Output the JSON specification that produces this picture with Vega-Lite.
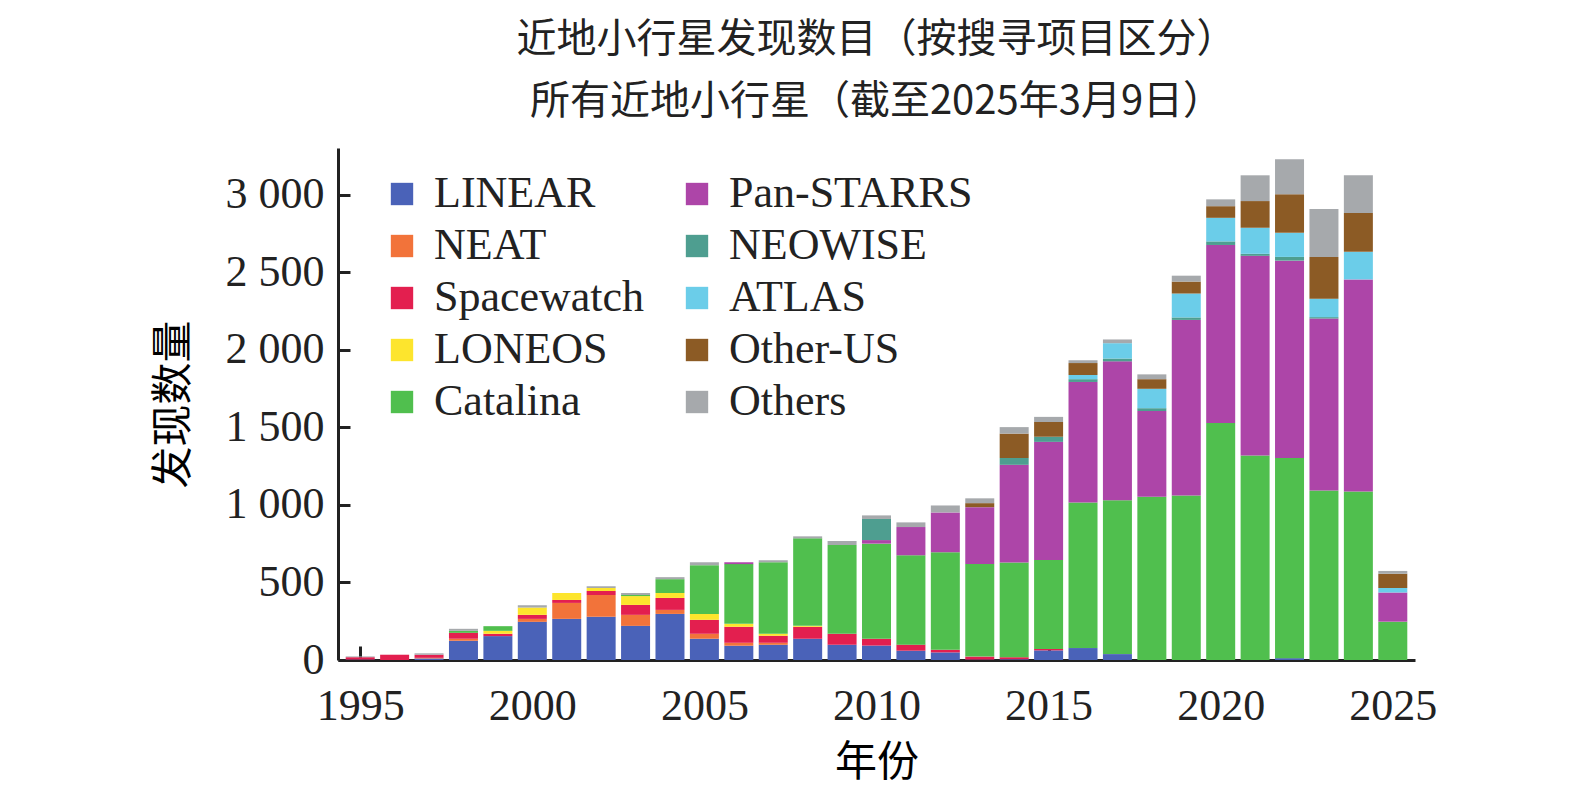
{
"$schema":"https://vega.github.io/schema/vega-lite/v6.json",
"width":1077,"height":512,
"autosize":{"type":"none"},
"padding":{"left":338,"top":148,"right":160,"bottom":148},
"background":"white",
"config":{"view":{"stroke":null},"font":"Liberation Serif"},
"title":{"text":["近地小行星发现数目（按搜寻项目区分）","所有近地小行星（截至2025年3月9日）"],"font":"Noto Sans CJK SC","fontSize":40,"fontWeight":"normal","lineHeight":62,"offset":26,"color":"#222"},
"data":{"values":[
{"y":1995,"s":"LINEAR","v":3},{"y":1995,"s":"Spacewatch","v":15},{"y":1995,"s":"Others","v":5},
{"y":1996,"s":"Spacewatch","v":34},
{"y":1997,"s":"LINEAR","v":10},{"y":1997,"s":"NEAT","v":4},{"y":1997,"s":"Spacewatch","v":20},{"y":1997,"s":"Others","v":9},
{"y":1998,"s":"LINEAR","v":124},{"y":1998,"s":"NEAT","v":13},{"y":1998,"s":"Spacewatch","v":38},{"y":1998,"s":"Catalina","v":13},{"y":1998,"s":"Others","v":13},
{"y":1999,"s":"LINEAR","v":154},{"y":1999,"s":"Spacewatch","v":15},{"y":1999,"s":"LONEOS","v":19},{"y":1999,"s":"Catalina","v":30},
{"y":2000,"s":"LINEAR","v":246},{"y":2000,"s":"NEAT","v":19},{"y":2000,"s":"Spacewatch","v":26},{"y":2000,"s":"LONEOS","v":47},{"y":2000,"s":"Others","v":15},
{"y":2001,"s":"LINEAR","v":265},{"y":2001,"s":"NEAT","v":103},{"y":2001,"s":"Spacewatch","v":19},{"y":2001,"s":"LONEOS","v":45},
{"y":2002,"s":"LINEAR","v":278},{"y":2002,"s":"NEAT","v":141},{"y":2002,"s":"Spacewatch","v":25},{"y":2002,"s":"LONEOS","v":20},{"y":2002,"s":"Others","v":12},
{"y":2003,"s":"LINEAR","v":220},{"y":2003,"s":"NEAT","v":71},{"y":2003,"s":"Spacewatch","v":64},{"y":2003,"s":"LONEOS","v":57},{"y":2003,"s":"Catalina","v":7},{"y":2003,"s":"Others","v":13},
{"y":2004,"s":"LINEAR","v":297},{"y":2004,"s":"NEAT","v":26},{"y":2004,"s":"Spacewatch","v":77},{"y":2004,"s":"LONEOS","v":32},{"y":2004,"s":"Catalina","v":89},{"y":2004,"s":"Others","v":13},
{"y":2005,"s":"LINEAR","v":137},{"y":2005,"s":"NEAT","v":32},{"y":2005,"s":"Spacewatch","v":90},{"y":2005,"s":"LONEOS","v":38},{"y":2005,"s":"Catalina","v":314},{"y":2005,"s":"Others","v":19},
{"y":2006,"s":"LINEAR","v":92},{"y":2006,"s":"NEAT","v":19},{"y":2006,"s":"Spacewatch","v":103},{"y":2006,"s":"LONEOS","v":19},{"y":2006,"s":"Catalina","v":385},{"y":2006,"s":"Pan-STARRS","v":12},
{"y":2007,"s":"LINEAR","v":98},{"y":2007,"s":"NEAT","v":13},{"y":2007,"s":"Spacewatch","v":45},{"y":2007,"s":"LONEOS","v":13},{"y":2007,"s":"Catalina","v":461},{"y":2007,"s":"Others","v":13},
{"y":2008,"s":"LINEAR","v":137},{"y":2008,"s":"Spacewatch","v":77},{"y":2008,"s":"LONEOS","v":6},{"y":2008,"s":"Catalina","v":564},{"y":2008,"s":"Others","v":13},
{"y":2009,"s":"LINEAR","v":98},{"y":2009,"s":"Spacewatch","v":71},{"y":2009,"s":"Catalina","v":572},{"y":2009,"s":"Others","v":26},
{"y":2010,"s":"LINEAR","v":93},{"y":2010,"s":"Spacewatch","v":44},{"y":2010,"s":"Catalina","v":613},{"y":2010,"s":"Pan-STARRS","v":23},{"y":2010,"s":"NEOWISE","v":136},{"y":2010,"s":"Others","v":23},
{"y":2011,"s":"LINEAR","v":60},{"y":2011,"s":"Spacewatch","v":39},{"y":2011,"s":"Catalina","v":576},{"y":2011,"s":"Pan-STARRS","v":182},{"y":2011,"s":"Others","v":30},
{"y":2012,"s":"LINEAR","v":49},{"y":2012,"s":"Spacewatch","v":17},{"y":2012,"s":"Catalina","v":629},{"y":2012,"s":"Pan-STARRS","v":256},{"y":2012,"s":"Others","v":45},
{"y":2013,"s":"LINEAR","v":3},{"y":2013,"s":"Spacewatch","v":19},{"y":2013,"s":"Catalina","v":596},{"y":2013,"s":"Pan-STARRS","v":367},{"y":2013,"s":"Other-US","v":26},{"y":2013,"s":"Others","v":31},
{"y":2014,"s":"LINEAR","v":5},{"y":2014,"s":"Spacewatch","v":13},{"y":2014,"s":"Catalina","v":611},{"y":2014,"s":"Pan-STARRS","v":629},{"y":2014,"s":"NEOWISE","v":44},{"y":2014,"s":"Other-US","v":157},{"y":2014,"s":"Others","v":42},
{"y":2015,"s":"LINEAR","v":62},{"y":2015,"s":"Spacewatch","v":9},{"y":2015,"s":"Catalina","v":574},{"y":2015,"s":"Pan-STARRS","v":761},{"y":2015,"s":"NEOWISE","v":33},{"y":2015,"s":"Other-US","v":95},{"y":2015,"s":"Others","v":33},
{"y":2016,"s":"LINEAR","v":77},{"y":2016,"s":"Catalina","v":938},{"y":2016,"s":"Pan-STARRS","v":777},{"y":2016,"s":"NEOWISE","v":18},{"y":2016,"s":"ATLAS","v":27},{"y":2016,"s":"Other-US","v":77},{"y":2016,"s":"Others","v":18},
{"y":2017,"s":"LINEAR","v":38},{"y":2017,"s":"Catalina","v":991},{"y":2017,"s":"Pan-STARRS","v":896},{"y":2017,"s":"NEOWISE","v":18},{"y":2017,"s":"ATLAS","v":99},{"y":2017,"s":"Others","v":24},
{"y":2018,"s":"Catalina","v":1053},{"y":2018,"s":"Pan-STARRS","v":552},{"y":2018,"s":"NEOWISE","v":18},{"y":2018,"s":"ATLAS","v":125},{"y":2018,"s":"Other-US","v":62},{"y":2018,"s":"Others","v":31},
{"y":2019,"s":"Catalina","v":1060},{"y":2019,"s":"Pan-STARRS","v":1132},{"y":2019,"s":"NEOWISE","v":16},{"y":2019,"s":"ATLAS","v":154},{"y":2019,"s":"Other-US","v":77},{"y":2019,"s":"Others","v":38},
{"y":2020,"s":"Catalina","v":1528},{"y":2020,"s":"Pan-STARRS","v":1147},{"y":2020,"s":"NEOWISE","v":23},{"y":2020,"s":"ATLAS","v":152},{"y":2020,"s":"Other-US","v":75},{"y":2020,"s":"Others","v":44},
{"y":2021,"s":"Catalina","v":1318},{"y":2021,"s":"Pan-STARRS","v":1287},{"y":2021,"s":"NEOWISE","v":13},{"y":2021,"s":"ATLAS","v":168},{"y":2021,"s":"Other-US","v":172},{"y":2021,"s":"Others","v":166},
{"y":2022,"s":"LINEAR","v":12},{"y":2022,"s":"Catalina","v":1290},{"y":2022,"s":"Pan-STARRS","v":1272},{"y":2022,"s":"NEOWISE","v":24},{"y":2022,"s":"ATLAS","v":155},{"y":2022,"s":"Other-US","v":249},{"y":2022,"s":"Others","v":225},
{"y":2023,"s":"Catalina","v":1093},{"y":2023,"s":"Pan-STARRS","v":1108},{"y":2023,"s":"NEOWISE","v":9},{"y":2023,"s":"ATLAS","v":119},{"y":2023,"s":"Other-US","v":269},{"y":2023,"s":"Others","v":309},
{"y":2024,"s":"Catalina","v":1086},{"y":2024,"s":"Pan-STARRS","v":1367},{"y":2024,"s":"ATLAS","v":178},{"y":2024,"s":"Other-US","v":250},{"y":2024,"s":"Others","v":243},
{"y":2025,"s":"Catalina","v":247},{"y":2025,"s":"Pan-STARRS","v":188},{"y":2025,"s":"ATLAS","v":29},{"y":2025,"s":"Other-US","v":92},{"y":2025,"s":"Others","v":18}
]},
"transform":[{"calculate":"indexof(['LINEAR','NEAT','Spacewatch','LONEOS','Catalina','Pan-STARRS','NEOWISE','ATLAS','Other-US','Others'], datum.s)","as":"k"}],
"mark":{"type":"bar","size":29},
"encoding":{
"x":{"field":"y","type":"quantitative","scale":{"domain":[1994.5,2025.5],"nice":false,"zero":false},
 "axis":{"title":"年份","titleFont":"Noto Sans CJK SC","titleFontSize":42,"titleFontWeight":"normal","titlePadding":14,"values":[1995,2000,2005,2010,2015,2020,2025],"format":"d","labelFontSize":44,"labelColor":"#222","tickSize":-14,"tickWidth":3,"tickColor":"#222","domainWidth":3,"domainColor":"#222","grid":false,"labelPadding":38,"labelFlush":false}},
"y":{"aggregate":"sum","field":"v","type":"quantitative","stack":"zero","scale":{"domain":[0,3300],"nice":false},
 "axis":{"title":"发现数量","titleFont":"Noto Sans CJK SC","titleFontSize":42,"titleFontWeight":"normal","titlePadding":30,"values":[0,500,1000,1500,2000,2500,3000],"labelExpr":"replace(format(datum.value,','),',',' ')","labelFontSize":44,"labelColor":"#222","tickSize":-12,"tickWidth":3,"tickColor":"#222","domainWidth":3,"domainColor":"#222","grid":false,"labelPadding":26}},
"order":{"field":"k","type":"quantitative","sort":"ascending"},
"color":{"field":"s","type":"nominal",
 "scale":{"domain":["LINEAR","NEAT","Spacewatch","LONEOS","Catalina","Pan-STARRS","NEOWISE","ATLAS","Other-US","Others"],
  "range":["#4a62b8","#f2733a","#e31f4f","#fde52d","#50bf4e","#ad45a8","#4e9e90","#6bcde9","#8c5b25","#a6a9ac"]},
 "legend":{"title":null,"orient":"none","legendX":42,"legendY":24,"columns":2,"columnPadding":30,"symbolType":"square","symbolSize":500,"symbolStrokeWidth":0,"labelFontSize":44,"labelColor":"#222","rowPadding":8,"labelOffset":10,"labelLimit":400}}
}
}
